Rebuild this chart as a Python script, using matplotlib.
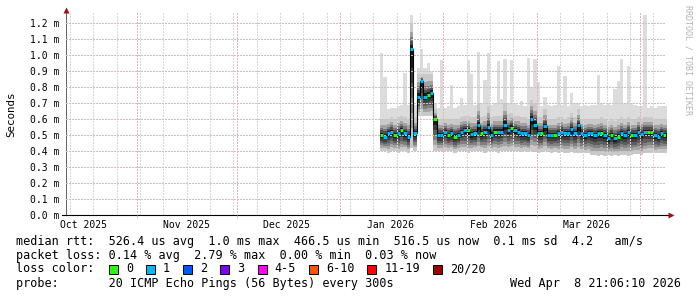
import numpy as np
import pandas as pd
import matplotlib
matplotlib.use("Agg")
import matplotlib.pyplot as plt
import matplotlib.dates as mdates
from matplotlib.patches import Rectangle
from matplotlib.ticker import FuncFormatter, NullFormatter

plt.rcParams["font.family"] = ["DejaVu Sans Mono"]

# one column per day, starting 2026-01-13, all rtt values in milliseconds
first_day = "2026-01-13"
med = [0.50, 0.49, 0.51, 0.52, 0.50, 0.51, 0.53, 0.51, 0.49, 1.04,
       0.51, 0.74, 0.835, 0.74, 0.75, 0.76, 0.60, 0.50, 0.50, 0.52,
       0.50, 0.51, 0.49, 0.50, 0.52, 0.53, 0.53, 0.505, 0.51, 0.56,
       0.51, 0.52, 0.55, 0.50, 0.52, 0.52, 0.52, 0.565, 0.53, 0.545,
       0.53, 0.52, 0.51, 0.51, 0.50, 0.60, 0.565, 0.51, 0.51, 0.555,
       0.50, 0.50, 0.50, 0.51, 0.52, 0.51, 0.51, 0.535, 0.51, 0.56,
       0.51, 0.50, 0.51, 0.51, 0.50, 0.51, 0.51, 0.50, 0.48, 0.50,
       0.48, 0.49, 0.51, 0.50, 0.52, 0.50, 0.50, 0.52, 0.505, 0.52,
       0.52, 0.52, 0.50, 0.49, 0.51, 0.50]
# lost pings (of 20) per column
loss = [0, 1, 1, 1, 0, 1, 0, 1, 1, 1,
        1, 1, 1, 1, 0, 1, 0, 1, 1, 1,
        0, 1, 0, 1, 1, 1, 0, 1, 1, 1,
        0, 1, 1, 1, 0, 1, 1, 1, 1, 0,
        1, 1, 1, 1, 1, 1, 1, 1, 0, 1,
        1, 1, 0, 1, 1, 1, 1, 1, 1, 1,
        1, 1, 1, 1, 1, 1, 0, 1, 1, 0,
        1, 0, 1, 1, 1, 0, 1, 1, 1, 1,
        0, 0, 1, 1, 1, 0]
# lowest ping
lo = [0.40, 0.40, 0.39, 0.40, 0.40, 0.39, 0.40, 0.40, 0.39, 0.42,
      0.40, 0.62, 0.62, 0.62, 0.62, 0.62, 0.40, 0.40, 0.40, 0.40,
      0.40, 0.40, 0.39, 0.40, 0.40, 0.40, 0.39, 0.40, 0.40, 0.40,
      0.40, 0.39, 0.40, 0.40, 0.40, 0.39, 0.40, 0.40, 0.40, 0.40,
      0.40, 0.40, 0.395, 0.40, 0.395, 0.40, 0.395, 0.39, 0.395, 0.40,
      0.395, 0.39, 0.395, 0.39, 0.395, 0.39, 0.39, 0.395, 0.39, 0.39,
      0.39, 0.385, 0.385, 0.375, 0.375, 0.37, 0.375, 0.37, 0.375, 0.37,
      0.375, 0.37, 0.375, 0.375, 0.37, 0.375, 0.38, 0.38, 0.375, 0.385,
      0.39, 0.39, 0.385, 0.39, 0.39, 0.39]
# upper edge of the dense smoke
hi = [0.60, 0.60, 0.60, 0.61, 0.60, 0.61, 0.62, 0.61, 0.60, 1.20,
      0.61, 0.88, 0.88, 0.88, 0.88, 0.88, 0.66, 0.60, 0.60, 0.60,
      0.60, 0.60, 0.60, 0.60, 0.61, 0.62, 0.62, 0.61, 0.61, 0.70,
      0.61, 0.62, 0.68, 0.61, 0.62, 0.62, 0.62, 0.70, 0.63, 0.64,
      0.62, 0.62, 0.61, 0.61, 0.60, 0.72, 0.70, 0.61, 0.61, 0.66,
      0.60, 0.60, 0.60, 0.61, 0.61, 0.60, 0.61, 0.64, 0.61, 0.66,
      0.60, 0.60, 0.60, 0.60, 0.60, 0.60, 0.61, 0.60, 0.59, 0.60,
      0.59, 0.60, 0.61, 0.60, 0.61, 0.60, 0.60, 0.61, 0.60, 0.61,
      0.61, 0.61, 0.60, 0.60, 0.60, 0.60]
# highest ping
top = [1.01, 0.86, 0.66, 0.67, 0.67, 0.68, 0.69, 0.89, 0.69, 1.25,
       0.69, 0.92, 1.04, 0.92, 0.95, 0.90, 0.70, 0.67, 0.97, 0.67,
       0.68, 0.81, 0.67, 0.68, 0.73, 0.69, 0.97, 0.88, 0.69, 1.02,
       0.70, 0.845, 1.015, 0.69, 0.70, 0.96, 0.725, 0.975, 0.70, 0.967,
       0.70, 0.69, 0.71, 0.68, 0.98, 0.80, 0.975, 0.83, 0.68, 0.74,
       0.69, 0.68, 0.69, 0.93, 0.69, 0.87, 0.68, 0.76, 0.70, 0.70,
       0.68, 0.69, 0.68, 0.69, 0.69, 0.877, 0.70, 0.69, 0.70, 0.69,
       0.79, 0.84, 0.977, 0.70, 0.933, 0.70, 0.69, 0.68, 0.68, 1.25,
       0.67, 0.68, 0.67, 0.68, 0.68, 0.68]

loss_labels = ["0", "1", "2", "3", "4-5", "6-10", "11-19", "20/20"]
loss_colors = ["#26ff00", "#00b8ff", "#0059ff", "#7e00ff", "#ff00ff", "#ff5500", "#ff0000", "#a10000"]

legend_lines = [
    "median rtt:  526.4 us avg  1.0 ms max  466.5 us min  516.5 us now  0.1 ms sd  4.2   am/s",
    "packet loss: 0.14 % avg  2.79 % max  0.00 % min  0.03 % now",
    "loss color:",
    "probe:       20 ICMP Echo Pings (56 Bytes) every 300s",
]
stamp = "Wed Apr  8 21:06:10 2026"

t_start = pd.Timestamp("2025-10-10 21:06:10")
t_end = pd.Timestamp("2026-04-08 21:06:10")

MAJOR = "#e4b6b6"
MINOR = "#d3d8dc"
DOTS = (0, (1, 1))

W, H = 697, 297
L, R, B, T = 66.3, 666.3, 215, 13.3

fig = plt.figure(figsize=(W / 100, H / 100), dpi=100)
ax = fig.add_axes([L / W, 1 - B / H, (R - L) / W, (B - T) / H])

med = np.array(med)
lo = np.array(lo)
hi = np.array(hi)
top = np.array(top)
xe = mdates.date2num(pd.date_range(first_day, periods=len(med) + 1, freq="D").values)


def ext(a):
    return np.append(a, a[-1])


# smoke: lightest outliers, then shades getting darker towards the median
ax.fill_between(xe, ext(hi), ext(top), step="post", color="#dcdcdc", lw=0, antialiased=False, zorder=1)
up_steps = [0.0, 0.15, 0.3, 0.45, 0.65, 1.0]
up_cols = ["#1a1a1a", "#4e4e4e", "#7a7a7a", "#a2a2a2", "#c9c9c9"]
for k, c in enumerate(up_cols):
    y1 = med + (hi - med) * up_steps[k]
    y2 = med + (hi - med) * up_steps[k + 1]
    ax.fill_between(xe, ext(y1), ext(y2), step="post", color=c, lw=0, antialiased=False, zorder=1)
dn_steps = [0.0, 0.2, 0.35, 0.5, 0.65, 0.8, 1.0]
dn_cols = ["#1a1a1a", "#3e3e3e", "#5e5e5e", "#808080", "#a4a4a4", "#c9c9c9"]
for k, c in enumerate(dn_cols):
    y1 = med - (med - lo) * dn_steps[k + 1]
    y2 = med - (med - lo) * dn_steps[k]
    ax.fill_between(xe, ext(y1), ext(y2), step="post", color=c, lw=0, antialiased=False, zorder=1)

# median: black steps, coloured by loss count
ax.step(xe, ext(med), where="post", color="black", lw=0.8, zorder=3)
ax.hlines(med, xe[:-1], xe[1:], colors=[loss_colors[n] for n in loss], lw=2.2, zorder=4)

ax.set_xlim(mdates.date2num(t_start), mdates.date2num(t_end))
ax.set_ylim(0, 1.26)

ax.xaxis.set_major_locator(mdates.MonthLocator())
ax.xaxis.set_major_formatter(NullFormatter())
ax.xaxis.set_minor_locator(mdates.MonthLocator(bymonthday=16))
ax.xaxis.set_minor_formatter(mdates.DateFormatter("%b %Y"))
ax.tick_params(axis="x", which="minor", length=0, pad=3.5, labelsize=7)
ax.tick_params(axis="x", which="major", length=2, width=0.7, color=MAJOR)
ax.set_yticks(np.round(np.arange(0, 1.25, 0.1), 1))
ax.yaxis.set_major_formatter(FuncFormatter(lambda v, p: f"{v:.1f} m"))
ax.tick_params(axis="y", length=0, pad=5, labelsize=7)

ax.set_axisbelow(False)
ax.grid(True, which="major", color=MAJOR, lw=0.75, ls=DOTS, antialiased=False)
for d in pd.date_range("2025-10-12", t_end, freq="7D"):
    ax.axvline(mdates.date2num(d), color=MINOR, lw=0.75, ls=DOTS, zorder=2.4, antialiased=False)

for s in ["top", "right"]:
    ax.spines[s].set_visible(False)
ax.spines["left"].set_color("#666666")
ax.spines["left"].set_linewidth(0.72)
ax.spines["bottom"].set_color("black")
ax.spines["bottom"].set_linewidth(0.8)
ax.set_facecolor("white")

# overlay in pixel units for the rrdtool style legend and axis arrows
lay = fig.add_axes([0, 0, 1, 1], zorder=5)
lay.set_xlim(0, W)
lay.set_ylim(H, 0)
lay.axis("off")

lay.plot([L, L], [T, T - 2], color="#666666", lw=0.72)
lay.plot([L - 4, L], [B, B], color="black", lw=0.8)
lay.plot([R, R + 3], [B, B], color="black", lw=0.8)
lay.plot([L], [T - 3], marker="^", ms=4.5, color="#a01010", mec="none")
lay.plot([R + 4.5], [B], marker=">", ms=4.5, color="#a01010", mec="none")

lay.text(11, 114, "Seconds", rotation=90, ha="center", va="center", fontsize=7.8)
lay.text(688, 60, "RRDTOOL / TOBI OETIKER", rotation=270, ha="center", va="center",
         fontsize=6, color="#b4b4b4")

rows = [241, 255, 269, 283]
for y, line in zip(rows, legend_lines):
    lay.text(16, y, line, ha="left", va="center", fontsize=8.5)
lay.text(681, rows[3], stamp, ha="right", va="center", fontsize=8.5)

char_w = 7.13
sx = 109
for lab, col in zip(loss_labels, loss_colors):
    lay.add_patch(Rectangle((sx, rows[2] - 4.5), 9, 9, facecolor=col, edgecolor="black", lw=0.7))
    lay.text(sx + 17, rows[2], lab, ha="left", va="center", fontsize=8.5)
    sx = sx + 17 + len(lab) * char_w + 13

fig.savefig("out.png", dpi=100, facecolor="white")
